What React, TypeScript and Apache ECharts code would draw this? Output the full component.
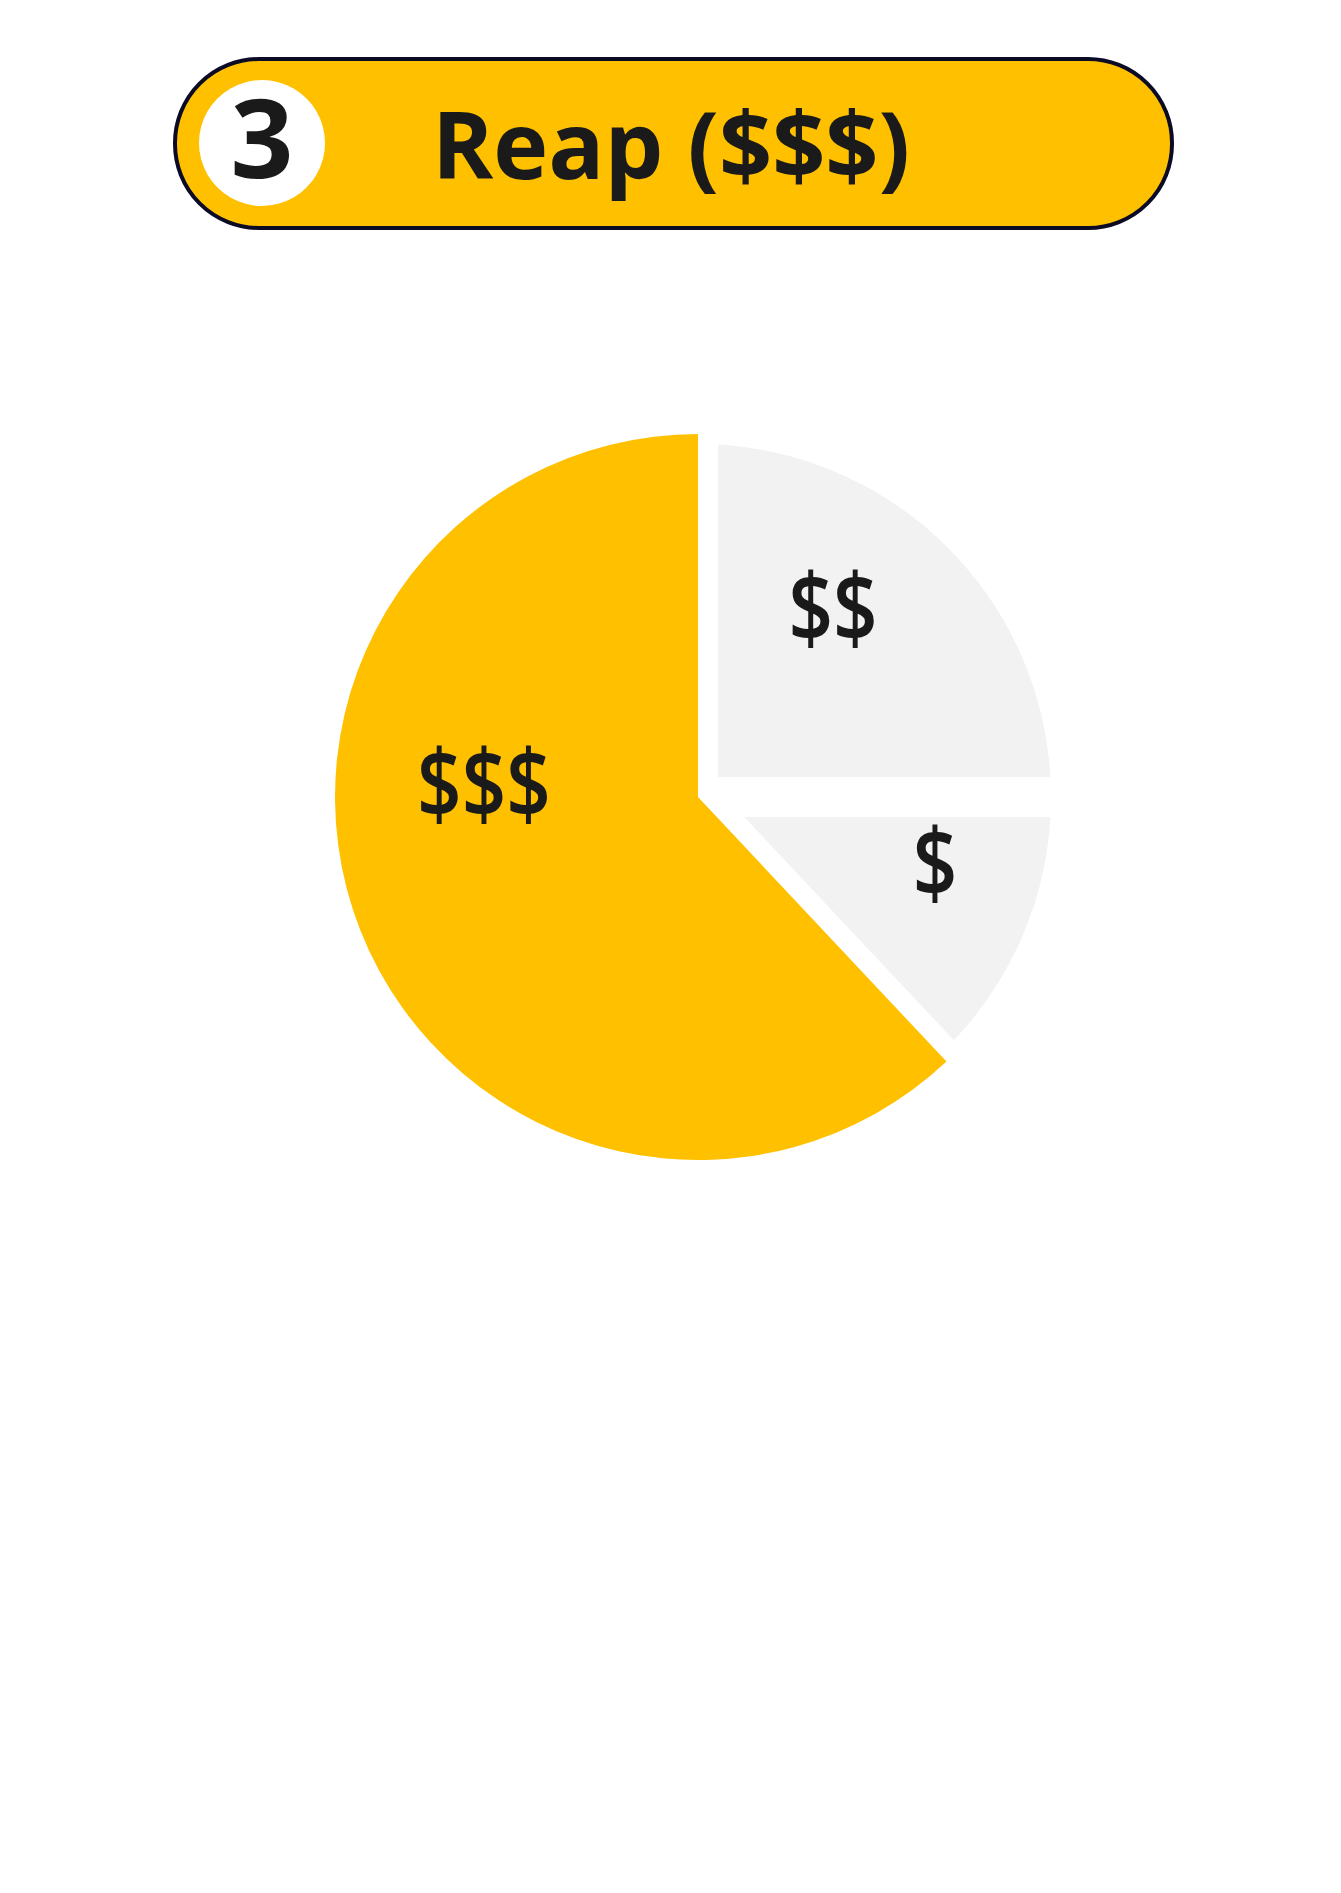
import React, { useEffect, useRef } from "react";
import * as echarts from "echarts";

const categories = ["$$", "$", "$$$"];
const values = [25, 13, 62];
const sliceColors = ["#F2F2F2", "#F2F2F2", "#FFC000"];
const titleText = "Reap ($$$)";
const stepNumber = "3";

export default function App() {
  const ref = useRef<HTMLDivElement>(null);
  useEffect(() => {
    if (!ref.current) return;
    const chart = echarts.init(ref.current, null, { renderer: "svg" });
    const font = "'Open Sans', 'Noto Sans', sans-serif";
    const grayData = categories.map((c, i) => ({
      name: c,
      value: values[i],
      itemStyle:
        sliceColors[i] === "#FFC000"
          ? { color: "transparent", borderWidth: 0 }
          : { color: sliceColors[i], borderColor: "#FFFFFF", borderWidth: 40 },
    }));
    const yellowData = categories.map((c, i) => ({
      name: c,
      value: values[i],
      itemStyle: {
        color: sliceColors[i] === "#FFC000" ? sliceColors[i] : "transparent",
        borderWidth: 0,
      },
    }));
    const labelPos: Record<string, [number, number]> = {
      "$$$": [484, 781],
      "$$": [833, 605],
      "$": [935, 860],
    };
    chart.setOption({
      animation: false,
      backgroundColor: "#FFFFFF",
      series: [
        {
          type: "pie",
          center: [698, 797],
          radius: [0, 373],
          startAngle: 90,
          clockwise: true,
          label: { show: false },
          labelLine: { show: false },
          silent: true,
          z: 1,
          data: grayData,
        },
        {
          type: "pie",
          center: [698, 797],
          radius: [0, 363],
          startAngle: 90,
          clockwise: true,
          label: { show: false },
          labelLine: { show: false },
          silent: true,
          z: 2,
          data: yellowData,
        },
      ],
      graphic: [
        {
          type: "rect",
          shape: { x: 175, y: 59, width: 997, height: 169, r: 84 },
          style: { fill: "#FFC000", stroke: "#0B0B26", lineWidth: 4 },
          z: 10,
        },
        {
          type: "circle",
          shape: { cx: 262, cy: 143, r: 63 },
          style: { fill: "#FFFFFF" },
          z: 11,
        },
        {
          type: "text",
          x: 262,
          y: 135,
          style: {
            text: stepNumber,
            font: `bold 110px ${font}`,
            fill: "#1A1A1A",
            align: "center",
            verticalAlign: "middle",
          },
          z: 12,
        },
        {
          type: "text",
          x: 671,
          y: 143,
          style: {
            text: titleText,
            font: `bold 93px ${font}`,
            fill: "#1A1A1A",
            align: "center",
            verticalAlign: "middle",
          },
          z: 12,
        },
        ...categories.map((c) => ({
          type: "text",
          x: labelPos[c][0],
          y: labelPos[c][1],
          scaleY: 1.24,
          style: {
            text: c,
            font: `600 78px ${font}`,
            fill: "#1A1A1A",
            align: "center",
            verticalAlign: "middle",
          },
          z: 20,
        })),
      ],
    });
    return () => chart.dispose();
  }, []);
  return (
    <div
      ref={ref}
      style={{ position: "absolute", left: 0, top: 0, width: 1341, height: 1893 }}
    />
  );
}
